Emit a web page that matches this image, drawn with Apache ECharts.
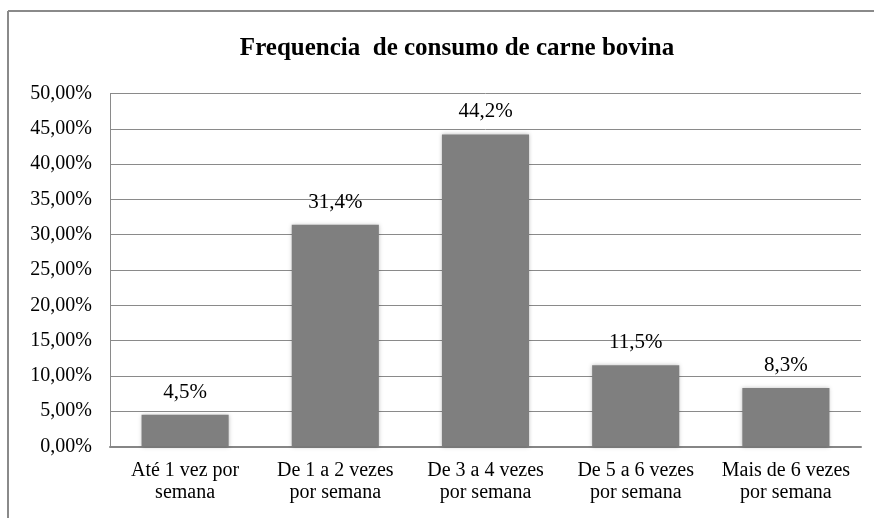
<!DOCTYPE html>
<html>
<head>
<meta charset="utf-8">
<script src="https://cdn.jsdelivr.net/npm/echarts@6/dist/echarts.min.js"></script>
<style>
html,body{margin:0;padding:0;background:#fff;}
#chart{width:874px;height:518px;}
</style>
</head>
<body>
<div id="chart"></div>
<script>
const title = 'Frequencia  de consumo de carne bovina';
const categories = ['Até 1 vez por\nsemana', 'De 1 a 2 vezes\npor semana', 'De 3 a 4 vezes\npor semana', 'De 5 a 6 vezes\npor semana', 'Mais de 6 vezes\npor semana'];
const values = [4.5, 31.4, 44.2, 11.5, 8.3];
const yMin = 0, yMax = 50, yStep = 5;

const chart = echarts.init(document.getElementById('chart'), null, {renderer: 'canvas'});
const serif = '"Liberation Serif", "Times New Roman", serif';
chart.setOption({
  animation: false,
  backgroundColor: '#fff',
  title: {
    text: title,
    left: 452,
    textAlign: 'center',
    top: 31,
    textStyle: {fontFamily: serif, fontWeight: 'bold', fontSize: 25, color: '#000'}
  },
  graphic: [
    {type: 'line', shape: {x1: 8, y1: 11, x2: 874, y2: 11}, style: {stroke: '#8a8a8a', lineWidth: 2}},
    {type: 'line', shape: {x1: 8, y1: 11, x2: 8, y2: 518}, style: {stroke: '#8a8a8a', lineWidth: 2}}
  ],
  grid: {left: 110, right: 13, top: 93.5, bottom: 71.5, containLabel: false},
  xAxis: {
    type: 'category',
    data: categories,
    axisTick: {show: false},
    axisLine: {show: true, lineStyle: {color: '#868686', width: 2}},
    axisLabel: {interval: 0, margin: 13, fontFamily: serif, fontSize: 20, color: '#000', lineHeight: 22}
  },
  yAxis: {
    type: 'value',
    min: yMin, max: yMax, interval: yStep,
    axisLine: {show: true, lineStyle: {color: '#8a8a8a', width: 1}},
    axisTick: {show: false},
    splitLine: {show: true, lineStyle: {color: '#8a8a8a', width: 1}},
    axisLabel: {
      margin: 18, fontFamily: serif, fontSize: 20, color: '#000',
      formatter: v => v.toFixed(2).replace('.', ',') + '%'
    }
  },
  series: [{
    type: 'bar',
    data: values,
    barWidth: '58%',
    itemStyle: {color: '#7f7f7f', shadowBlur: 4, shadowColor: 'rgba(0,0,0,0.25)'},
    label: {
      show: true, position: 'top', distance: 12,
      fontFamily: serif, fontSize: 21, color: '#000',
      formatter: p => p.value.toFixed(1).replace('.', ',') + '%'
    }
  }]
});
</script>
</body>
</html>
